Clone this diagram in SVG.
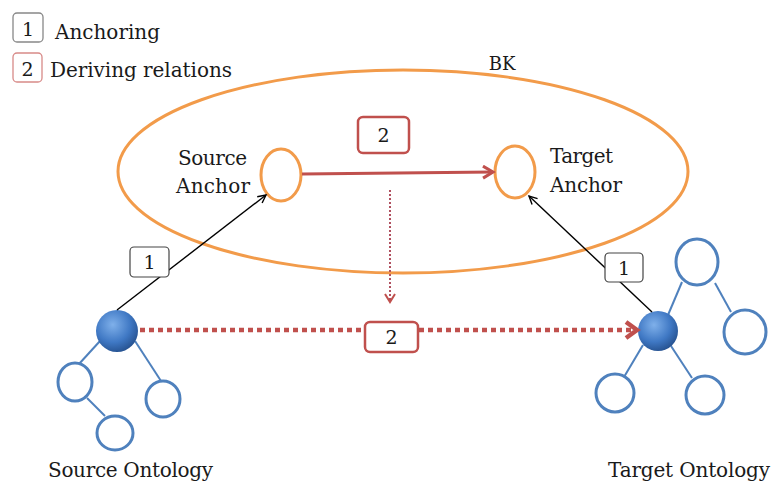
<svg xmlns="http://www.w3.org/2000/svg" width="773" height="487" viewBox="0 0 773 487">
  <defs>
    <radialGradient id="ball" cx="0.4" cy="0.35" r="0.7">
      <stop offset="0" stop-color="#7fb0ea"/>
      <stop offset="0.6" stop-color="#3f78c4"/>
      <stop offset="1" stop-color="#244f8c"/>
    </radialGradient>
    <marker id="arrBlack" markerWidth="12" markerHeight="12" refX="9" refY="5" orient="auto" markerUnits="userSpaceOnUse">
      <path d="M1,1 L9,5 L1,9" fill="none" stroke="#000" stroke-width="1.4"/>
    </marker>
    <marker id="arrRed" markerWidth="16" markerHeight="16" refX="12" refY="7" orient="auto" markerUnits="userSpaceOnUse">
      <path d="M2,1 L12,7 L2,13" fill="none" stroke="#c0504d" stroke-width="3"/>
    </marker>
    <marker id="arrRedSmall" markerWidth="14" markerHeight="14" refX="10" refY="6" orient="auto" markerUnits="userSpaceOnUse">
      <path d="M2,1 L10,6 L2,11" fill="none" stroke="#c0504d" stroke-width="2"/>
    </marker>
    <marker id="arrRedBig" markerWidth="20" markerHeight="22" refX="14" refY="10" orient="auto" markerUnits="userSpaceOnUse">
      <path d="M3,2 L14,10 L3,18" fill="none" stroke="#c0504d" stroke-width="4.5"/>
    </marker>
  </defs>
  <style>
    text { font-family: "DejaVu Serif", "Liberation Serif", serif; fill: #1a1a1a; }
    .lbl { font-size: 20px; }
    .num { font-size: 19px; text-anchor: middle; }
    .tree { fill: #fff; stroke: #4f81bd; stroke-width: 3; }
    .branch { stroke: #4f81bd; stroke-width: 2; }
    .orange { fill: none; stroke: #f29b4a; stroke-width: 3; }
    .anchor-link { stroke: #000; stroke-width: 1.4; fill: none; }
    .redbox { fill: #fff; stroke: #c0504d; stroke-width: 2.5; }
    .blackbox { fill: #fff; stroke: #444; stroke-width: 1.2; }
  </style>

  <!-- legend -->
  <g id="legend">
    <rect x="13" y="13" width="30" height="29" rx="4" fill="#fff" stroke="#888" stroke-width="1.3"/>
    <text class="num" x="28" y="36">1</text>
    <text class="lbl" x="55" y="39" textLength="105">Anchoring</text>
    <rect x="13" y="53" width="29" height="29" rx="4" fill="#fff" stroke="#d88a88" stroke-width="1.3"/>
    <text class="num" x="27.5" y="76">2</text>
    <text class="lbl" x="50" y="77" textLength="182">Deriving relations</text>
  </g>

  <!-- background knowledge -->
  <g id="bk">
    <ellipse class="orange" cx="403" cy="171.5" rx="285" ry="101.5"/>
    <text x="502" y="70" font-size="18" text-anchor="middle">BK</text>
  </g>

  <g id="source-anchor">
    <ellipse class="orange" cx="281" cy="175" rx="20" ry="26"/>
    <text class="lbl" x="178" y="165" textLength="69">Source</text>
    <text class="lbl" x="176" y="193" textLength="74">Anchor</text>
  </g>

  <g id="target-anchor">
    <ellipse class="orange" cx="515" cy="172" rx="20" ry="26"/>
    <text class="lbl" x="550" y="163" textLength="63">Target</text>
    <text class="lbl" x="550" y="192" textLength="72">Anchor</text>
  </g>

  <!-- source ontology tree -->
  <g id="source-ontology">
    <line class="branch" x1="100" y1="341" x2="79" y2="364"/>
    <line class="branch" x1="135" y1="341" x2="161" y2="381"/>
    <line class="branch" x1="87" y1="398" x2="105" y2="416"/>
    <ellipse class="tree" cx="75" cy="382" rx="17" ry="19"/>
    <ellipse class="tree" cx="163" cy="399" rx="17" ry="18"/>
    <ellipse class="tree" cx="115" cy="433" rx="18" ry="17"/>
    <circle cx="117" cy="331" r="21" fill="url(#ball)"/>
    <text class="lbl" x="48" y="477" textLength="165">Source Ontology</text>
  </g>

  <!-- target ontology tree -->
  <g id="target-ontology">
    <line class="branch" x1="668" y1="315" x2="682" y2="282"/>
    <line class="branch" x1="715" y1="283" x2="731" y2="312"/>
    <line class="branch" x1="643" y1="345" x2="624" y2="377"/>
    <line class="branch" x1="671" y1="346" x2="692" y2="378"/>
    <ellipse class="tree" cx="697" cy="262" rx="21" ry="23"/>
    <ellipse class="tree" cx="745" cy="332" rx="21" ry="22"/>
    <ellipse class="tree" cx="615" cy="393" rx="19" ry="19"/>
    <ellipse class="tree" cx="705" cy="395" rx="19" ry="19"/>
    <circle cx="658" cy="331" r="20" fill="url(#ball)"/>
    <text class="lbl" x="608" y="477" textLength="162">Target Ontology</text>
  </g>

  <!-- connectors -->
  <g id="connectors">
    <line class="anchor-link" x1="117" y1="310" x2="266" y2="195" marker-end="url(#arrBlack)"/>
    <line class="anchor-link" x1="652" y1="312" x2="529" y2="196" marker-end="url(#arrBlack)"/>
    <line x1="302" y1="174" x2="493" y2="172" stroke="#c0504d" stroke-width="3" marker-end="url(#arrRed)"/>
    <line x1="390" y1="190" x2="390" y2="302" stroke="#b05060" stroke-width="2" stroke-dasharray="2 2" marker-end="url(#arrRedSmall)"/>
    <line x1="140" y1="330" x2="637" y2="330" stroke="#c0504d" stroke-width="4.5" stroke-dasharray="5 4" marker-end="url(#arrRedBig)"/>
  </g>

  <!-- connector labels -->
  <g id="labels">
    <rect class="redbox" x="358" y="117" width="51" height="36" rx="5"/>
    <text class="num" x="383.5" y="142">2</text>
    <rect class="redbox" x="365" y="322" width="53" height="30" rx="5"/>
    <text class="num" x="391.5" y="344">2</text>
    <rect class="blackbox" x="130" y="247" width="39" height="30" rx="4"/>
    <text class="num" x="149.5" y="269">1</text>
    <rect class="blackbox" x="605" y="253" width="38" height="29" rx="4"/>
    <text class="num" x="624" y="275">1</text>
  </g>
</svg>
